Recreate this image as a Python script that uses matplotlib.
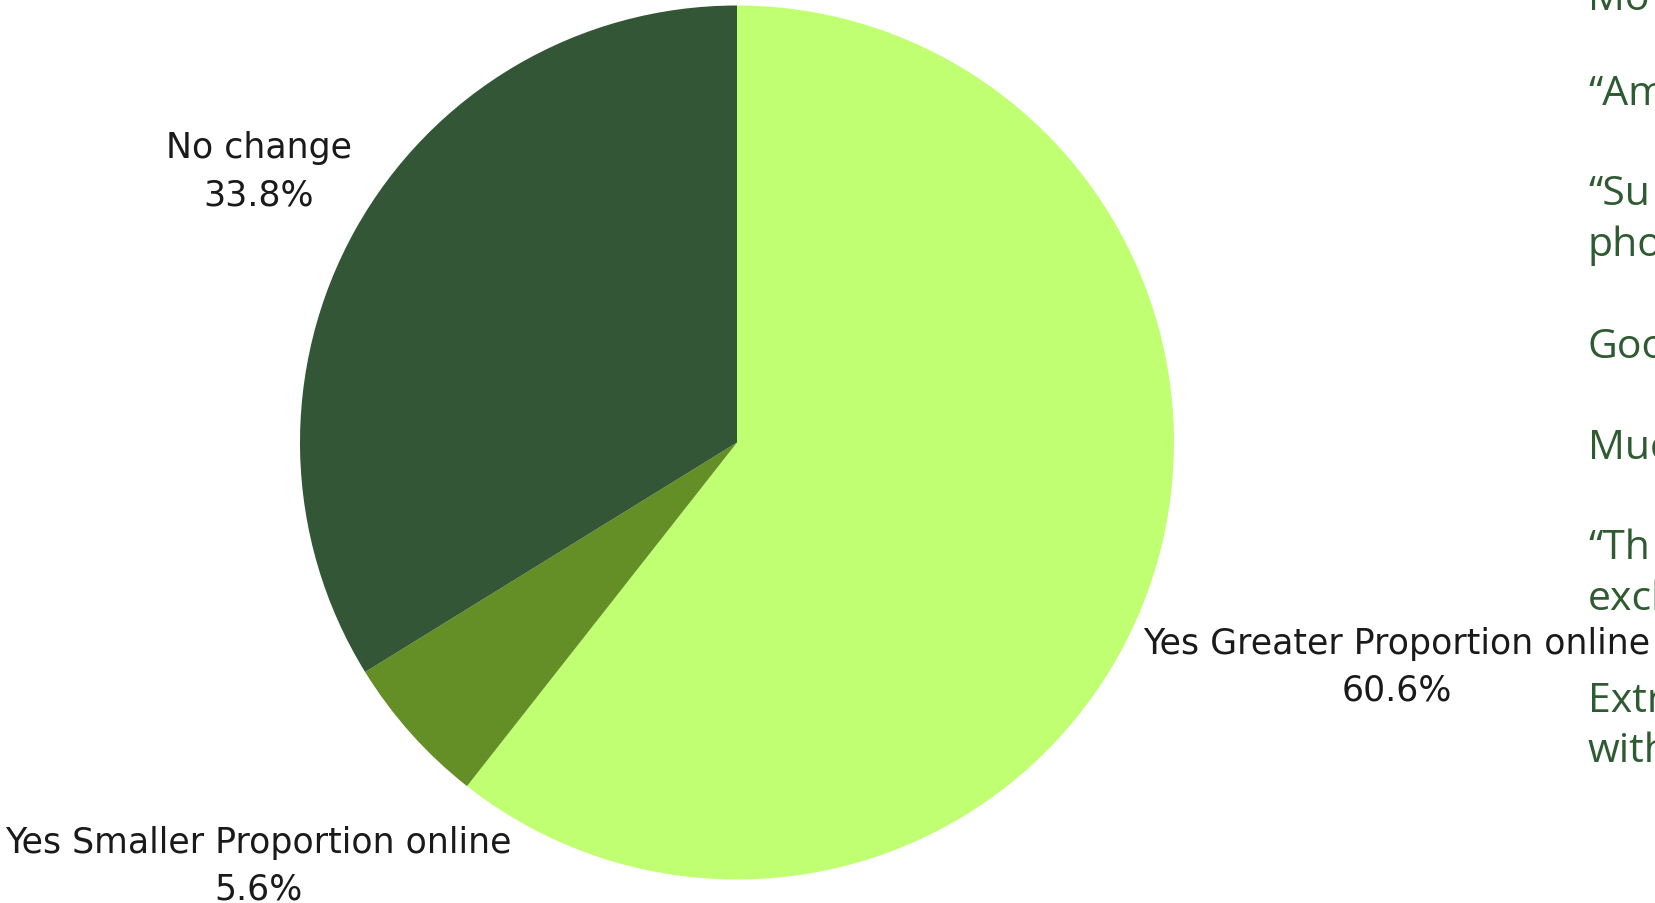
import matplotlib
matplotlib.use("Agg")
import matplotlib.pyplot as plt

# pie data
labels = ["Yes Greater Proportion online", "Yes Smaller Proportion online", "No change"]
shares = [60.6, 5.6, 33.8]
colors = ["#C1FF72", "#648E26", "#335736"]

# cropped slide text on the right edge
side_text = ["Mo", "\u201cAm", "\u201cSu", "pho", "Goo", "Muc", "\u201cTh", "excl", "Extr", "with"]
side_y = [0, 95, 195, 246, 348, 449, 549, 600, 702, 752]

W, H = 1656, 904
fig = plt.figure(figsize=(W / 100, H / 100), dpi=100)
ax = fig.add_axes([0, 0, 1, 1])

cx, cy, R = 737, 443.5, 437
# y axis is inverted below, so counterclock=True draws clockwise on screen
ax.pie(shares, colors=colors, startangle=-90, counterclock=True,
       center=(cx, cy), radius=R, frame=True,
       wedgeprops=dict(linewidth=0))
ax.set_xlim(0, W)
ax.set_ylim(H, 0)
ax.set_aspect("equal")
ax.axis("off")

# label positions (pixels)
label_pos = [(1397, 644), (258, 843), (259, 148)]
for lab, val, (x, y) in zip(labels, shares, label_pos):
    ax.text(x, y, lab, ha="center", va="center", fontsize=25,
            color="#1a1a1a", family="DejaVu Sans")
    ax.text(x, y + 47, f"{val:.1f}%", ha="center", va="center", fontsize=25,
            color="#1a1a1a", family="DejaVu Sans")

for t, y in zip(side_text, side_y):
    ax.text(1588, y, t, ha="left", va="center", fontsize=29.5,
            color="#2F5B32", family="Open Sans")

fig.savefig("out.png", dpi=100)
